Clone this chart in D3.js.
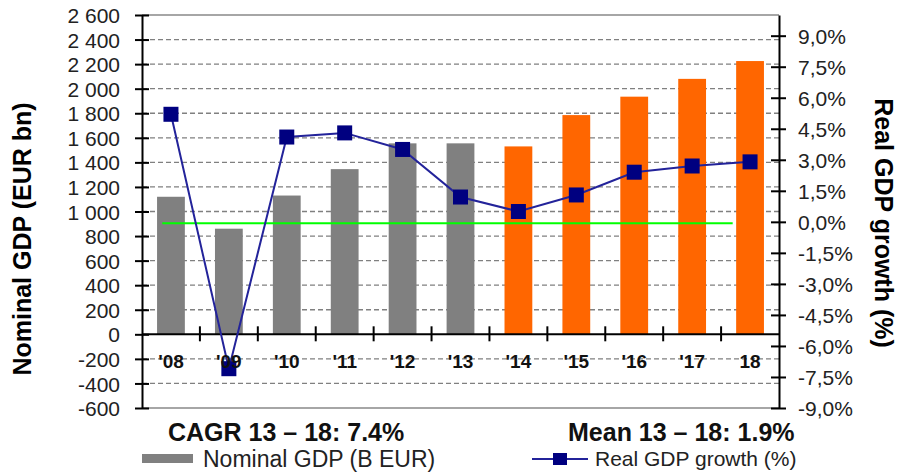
<!DOCTYPE html>
<html>
<head>
<meta charset="utf-8">
<script src="https://cdn.jsdelivr.net/npm/d3@7"></script>
<style>
  html, body { margin: 0; padding: 0; background: #fff; }
  svg { display: block; font-family: "Liberation Sans", Arial, sans-serif; }
</style>
</head>
<body>
<svg id="chart" width="900" height="472"></svg>
<script>
// Years shown on the x axis
const categories = ["'08", "'09", "'10", "'11", "'12", "'13", "'14", "'15", "'16", "'17", "18"];
// Nominal GDP, EUR bn (history then forecast)
const nominalGdp = [1120, 860, 1130, 1345, 1555, 1555, 1530, 1785, 1935, 2080, 2225];
// Real GDP growth, %
const realGrowth = [5.2, -7.1, 4.1, 4.3, 3.5, 1.2, 0.5, 1.3, 2.4, 2.7, 2.9];
// Bars from this index onward are forecasts
const forecastStart = 6;
// Axis ticks
const leftTicks = [-600, -400, -200, 0, 200, 400, 600, 800, 1000, 1200, 1400, 1600, 1800, 2000, 2200, 2400, 2600];
const rightTicks = [-9, -7.5, -6, -4.5, -3, -1.5, 0, 1.5, 3, 4.5, 6, 7.5, 9];
// Zero-growth reference level
const referenceGrowth = 0;
// Footnotes and legend labels
const cagrLabel = "CAGR 13 \u2013 18: 7.4%";
const meanLabel = "Mean 13 \u2013 18: 1.9%";
const barLegend = "Nominal GDP (B EUR)";
const lineLegend = "Real GDP growth (%)";

const svg = d3.select("#chart");
const plot = { left: 142, right: 779, top: 15, bottom: 408 };

const x = d3.scaleBand().domain(categories).range([plot.left, plot.right]).padding(0);
const yL = d3.scaleLinear().domain([-600, 2600]).range([plot.bottom, plot.top]);
const yR = d3.scaleLinear().domain([-9, 10]).range([plot.bottom, plot.top]);
const step = x.step();
const barW = step * 0.48;
const cx = c => x(c) + step / 2;

// Thousands separated by a space, plain hyphen for negatives
const fmtLeft = v => d3.format(",")(v).replace(/,/g, " ").replace("\u2212", "-");
// Decimal comma with percent sign
const fmtRight = v => d3.format(".1f")(v).replace(".", ",").replace("\u2212", "-") + "%";

// Dashed horizontal gridlines
svg.append("g").selectAll("line")
  .data(leftTicks.filter(v => v !== 0 && v !== -600 && v !== 2600))
  .join("line")
  .attr("x1", plot.left).attr("x2", plot.right)
  .attr("y1", d => yL(d)).attr("y2", d => yL(d))
  .attr("stroke", "#808080").attr("stroke-width", 1.3)
  .attr("stroke-dasharray", "5,3");

// Plot frame top & bottom
svg.append("g").selectAll("line").data([plot.top, plot.bottom]).join("line")
  .attr("x1", plot.left).attr("x2", plot.right)
  .attr("y1", d => d).attr("y2", d => d)
  .attr("stroke", "#a6a6a6").attr("stroke-width", 2);

// Bars
svg.append("g").selectAll("rect")
  .data(categories.map((c, i) => ({ c, v: nominalGdp[i], f: i >= forecastStart })))
  .join("rect")
  .attr("x", d => cx(d.c) - barW / 2)
  .attr("width", barW)
  .attr("y", d => yL(d.v))
  .attr("height", d => yL(0) - yL(d.v))
  .attr("fill", d => d.f ? "#ff6600" : "#808080");

// Zero-growth reference line
svg.append("line")
  .attr("x1", x(categories[0]) + step * 0.35)
  .attr("x2", x(categories[categories.length - 1]) + step * 0.2)
  .attr("y1", yR(referenceGrowth) + 1.5).attr("y2", yR(referenceGrowth) + 1.5)
  .attr("stroke", "#00ff00").attr("stroke-width", 2);

// Left axis
const leftAxis = d3.axisLeft(yL).tickValues(leftTicks).tickSize(0).tickFormat(fmtLeft);
const gL = svg.append("g").attr("transform", `translate(${plot.left},0)`).call(leftAxis);
gL.select(".domain").attr("stroke", "#000").attr("stroke-width", 2);
gL.selectAll(".tick line").attr("x1", -7).attr("x2", 7).attr("stroke", "#000").attr("stroke-width", 2);
gL.selectAll(".tick text").attr("x", -22).attr("dy", "0.36em")
  .attr("font-size", 21).attr("fill", "#222").attr("font-family", "Liberation Sans, Arial, sans-serif");

// Right axis
const rightAxis = d3.axisRight(yR).tickValues(rightTicks).tickSize(0).tickFormat(fmtRight);
const gR = svg.append("g").attr("transform", `translate(${plot.right},0)`).call(rightAxis);
gR.select(".domain").attr("stroke", "#000").attr("stroke-width", 2);
gR.selectAll(".tick line").attr("x1", -8).attr("x2", 7).attr("stroke", "#000").attr("stroke-width", 2);
gR.selectAll(".tick text").attr("x", 19).attr("dy", "0.36em")
  .attr("font-size", 21).attr("fill", "#222").attr("font-family", "Liberation Sans, Arial, sans-serif");

// Category axis line along zero, with ticks between categories
const gX = svg.append("g").attr("transform", `translate(0,${yL(0)})`);
gX.append("line").attr("x1", plot.left).attr("x2", plot.right)
  .attr("stroke", "#000").attr("stroke-width", 2);
gX.selectAll("line.tk").data(categories.slice(1)).join("line").attr("class", "tk")
  .attr("x1", d => x(d)).attr("x2", d => x(d))
  .attr("y1", -8).attr("y2", 7)
  .attr("stroke", "#000").attr("stroke-width", 2);

// Growth line and markers
const line = d3.line().x((d, i) => cx(categories[i])).y(d => yR(d));
svg.append("path").datum(realGrowth)
  .attr("d", line).attr("fill", "none")
  .attr("stroke", "#23239a").attr("stroke-width", 2);
const mk = 15;
svg.append("g").selectAll("rect").data(realGrowth).join("rect")
  .attr("x", (d, i) => cx(categories[i]) - mk / 2)
  .attr("y", d => yR(d) - mk / 2)
  .attr("width", mk).attr("height", mk)
  .attr("fill", "#000080");

// Category labels drawn on top of the markers
svg.append("g").attr("transform", `translate(0,${yL(0)})`)
  .selectAll("text").data(categories).join("text")
  .attr("x", d => cx(d)).attr("y", 34)
  .attr("text-anchor", "middle")
  .attr("font-size", 19).attr("font-weight", "bold").attr("fill", "#111")
  .text(d => d);

// Axis titles
svg.append("text")
  .attr("transform", "translate(31,239) rotate(-90)")
  .attr("text-anchor", "middle").attr("font-size", 25).attr("font-weight", "bold").attr("fill", "#000")
  .text("Nominal GDP (EUR bn)");
svg.append("text")
  .attr("transform", "translate(875,223) rotate(90)")
  .attr("text-anchor", "middle").attr("font-size", 25).attr("font-weight", "bold").attr("fill", "#000")
  .text("Real GDP growth (%)");

// Footnotes
svg.append("text").attr("x", 168).attr("y", 441)
  .attr("font-size", 25).attr("font-weight", "bold").attr("fill", "#111").text(cagrLabel);
svg.append("text").attr("x", 568).attr("y", 441)
  .attr("font-size", 25).attr("font-weight", "bold").attr("fill", "#111").text(meanLabel);

// Legend
svg.append("rect").attr("x", 142).attr("y", 454).attr("width", 51).attr("height", 9).attr("fill", "#808080");
svg.append("text").attr("x", 203).attr("y", 467).attr("font-size", 23).attr("fill", "#222").text(barLegend);
svg.append("line").attr("x1", 532).attr("x2", 588).attr("y1", 459).attr("y2", 459)
  .attr("stroke", "#23239a").attr("stroke-width", 2);
svg.append("rect").attr("x", 560 - 7).attr("y", 459 - 6).attr("width", 14).attr("height", 12).attr("fill", "#000080");
svg.append("text").attr("x", 595).attr("y", 466).attr("font-size", 21).attr("fill", "#222").text(lineLegend);
</script>
</body>
</html>
